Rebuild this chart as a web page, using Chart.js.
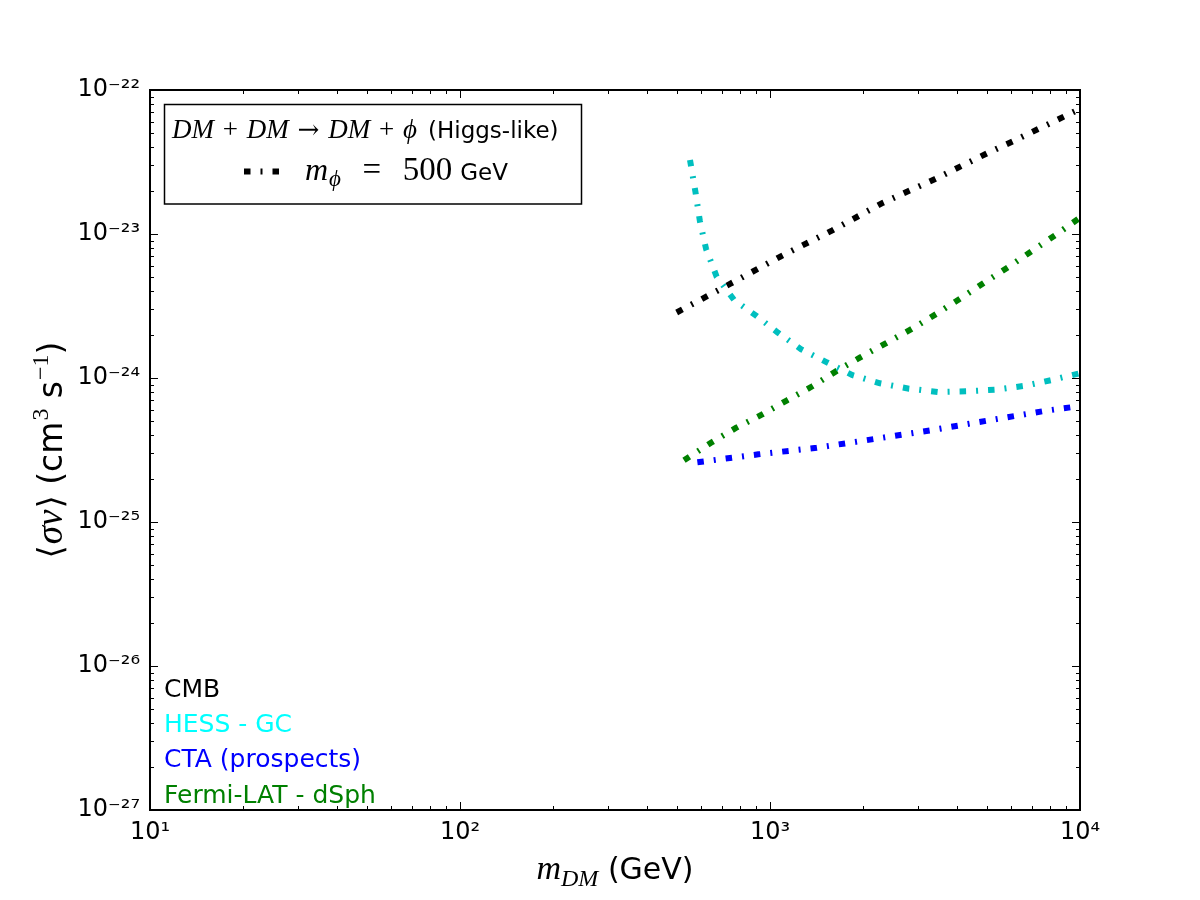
<!DOCTYPE html>
<html><head><meta charset="utf-8">
<script src="https://cdn.jsdelivr.net/npm/chart.js@4.4.1/dist/chart.umd.min.js"></script>
<style>html,body{margin:0;padding:0;background:#fff}#wrap{width:1200px;height:900px}</style>
</head><body><div id="wrap"><canvas id="c" width="1200" height="900"></canvas></div>
<script>
// ---- data ----
const cmbMass   = [500, 743, 1088, 1589, 2316, 3396, 5012, 6095, 10000];
const cmbSigma  = [2.85e-24, 4.50e-24, 7.03e-24, 1.06e-23, 1.65e-23, 2.40e-23, 3.63e-23, 4.42e-23, 7.4e-23];
const hessMass  = [552, 575, 594, 622, 673, 766, 904, 1059, 1262, 1520, 1839, 2265, 2808, 3483, 4330, 5352, 6660, 8103, 10000];
const hessSigma = [3.27e-23, 1.95e-23, 1.23e-23, 7.87e-24, 5.05e-24, 3.48e-24, 2.70e-24, 2.07e-24, 1.58e-24, 1.29e-24, 1.05e-24, 9.19e-25, 8.43e-25, 8.0e-25, 8.09e-25, 8.30e-25, 8.84e-25, 9.68e-25, 1.08e-24];
const ctaMass   = [583, 917, 1415, 2170, 3331, 5088, 7780, 10000];
const ctaSigma  = [2.60e-25, 2.95e-25, 3.28e-25, 3.77e-25, 4.35e-25, 5.08e-25, 5.93e-25, 6.39e-25];
const fermiMass  = [528, 645, 776, 940, 1135, 1369, 1641, 1955, 2362, 2865, 3432, 4121, 4939, 5902, 7068, 8433, 10000];
const fermiSigma = [2.68e-25, 3.55e-25, 4.50e-25, 5.56e-25, 7.0e-25, 8.76e-25, 1.12e-24, 1.39e-24, 1.74e-24, 2.19e-24, 2.78e-24, 3.58e-24, 4.64e-24, 5.93e-24, 7.74e-24, 1.00e-23, 1.30e-23];
const seriesNames = ['CMB', 'HESS - GC', 'CTA (prospects)', 'Fermi-LAT - dSph'];
const xTickValues = [1e1, 1e2, 1e3, 1e4];
const yTickValues = [1e-27, 1e-26, 1e-25, 1e-24, 1e-23, 1e-22];

// ---- styling ----
const DASH = [6.5, 10, 2, 10];
const SUP = {'-':'⁻','0':'⁰','1':'¹','2':'²','3':'³','4':'⁴','5':'⁵','6':'⁶','7':'⁷','8':'⁸','9':'⁹'};
function powLabel(v){
  const e = Math.round(Math.log10(v));
  return '10' + String(e).split('').map(c => SUP[c]).join('');
}
function ds(label, xs, ys, color){
  return {label, data: xs.map((x,i)=>({x, y: ys[i]})), showLine: true, borderColor: color,
    backgroundColor: color, borderWidth: 6, borderDash: DASH, borderCapStyle: 'butt',
    pointRadius: 0, fill: false, tension: 0};
}
function drawPieces(ctx, pieces, x, y){
  let cur = x;
  for (const p of pieces){
    ctx.font = p.f;
    const w = ctx.measureText(p.t).width;
    cur += (p.pl || 0);
    ctx.fillStyle = p.c || '#000';
    ctx.fillText(p.t, cur, y + (p.dy || 0));
    cur += w + (p.pr || 0);
  }
  return cur - x;
}
function piecesWidth(ctx, pieces){
  let w = 0;
  for (const p of pieces){ ctx.font = p.f; w += (p.pl||0) + ctx.measureText(p.t).width + (p.pr||0); }
  return w;
}
function tw(ctx, t, f){ ctx.font = f; return ctx.measureText(t).width; }
const MI = 'italic 27px "Liberation Serif"';
const MR = '27px "Liberation Serif"';

const decor = {
  id: 'decor',
  afterDatasetsDraw(chart){
    const {ctx, chartArea: a, scales: {x, y}} = chart;
    ctx.save();
    ctx.strokeStyle = '#000';
    ctx.lineWidth = 1;
    ctx.setLineDash([]);
    // inward ticks, all four sides
    for (let e = 1; e < 4; e++){
      for (let m = 1; m <= 9; m++){
        const px = Math.round(x.getPixelForValue(m * Math.pow(10, e))) + 0.5;
        const L = m === 1 ? 8 : 4;
        ctx.beginPath();
        ctx.moveTo(px, a.bottom); ctx.lineTo(px, a.bottom - L);
        ctx.moveTo(px, a.top); ctx.lineTo(px, a.top + L);
        ctx.stroke();
      }
    }
    for (let e = -27; e < -22; e++){
      for (let m = 1; m <= 9; m++){
        const py = Math.round(y.getPixelForValue(m * Math.pow(10, e))) + 0.5;
        const L = m === 1 ? 8 : 4;
        ctx.beginPath();
        ctx.moveTo(a.left, py); ctx.lineTo(a.left + L, py);
        ctx.moveTo(a.right, py); ctx.lineTo(a.right - L, py);
        ctx.stroke();
      }
    }
    // frame
    ctx.lineWidth = 2;
    ctx.strokeRect(a.left, a.top, a.right - a.left, a.bottom - a.top);

    // series labels bottom-left
    ctx.font = '25px "DejaVu Sans"';
    ctx.textBaseline = 'alphabetic';
    ctx.textAlign = 'left';
    const labColors = ['#000000', '#00FFFF', '#0000FF', '#008000'];
    const labY = [697, 732, 767, 803];
    seriesNames.forEach((n, i) => { ctx.fillStyle = labColors[i]; ctx.fillText(n, 164, labY[i]); });

    // legend box
    ctx.fillStyle = '#fff';
    ctx.fillRect(164, 104, 418, 100);
    ctx.lineWidth = 1.5;
    ctx.strokeStyle = '#000';
    ctx.strokeRect(164.5, 104.5, 417, 99.5);
    // line 1: math part fitted to 172..417, then (Higgs-like)
    const ARW = '26px "DejaVu Serif"';
    const nat = 3 * tw(ctx, 'DM', MI) + 2 * tw(ctx, '+', MR) + tw(ctx, '→', ARW) + tw(ctx, 'ϕ', MI);
    const g = Math.max(2, (245 - nat) / 6);
    const t1 = [
      {t:'DM', f:MI}, {t:'+', f:MR, pl:g, pr:g}, {t:'DM', f:MI}, {t:'→', f:ARW, pl:g, pr:g},
      {t:'DM', f:MI}, {t:'+', f:MR, pl:g, pr:g}, {t:'ϕ', f:MI}
    ];
    drawPieces(ctx, t1, 172, 138);
    ctx.font = '23px "DejaVu Sans"';
    ctx.fillStyle = '#000';
    ctx.fillText('(Higgs-like)', 428, 138);
    // legend sample line
    ctx.save();
    ctx.beginPath();
    ctx.setLineDash(DASH);
    ctx.lineCap = 'butt';
    ctx.lineWidth = 6;
    ctx.strokeStyle = '#000';
    ctx.moveTo(244, 171.5); ctx.lineTo(281, 171.5);
    ctx.stroke();
    ctx.restore();
    // line 2: m_phi = 500 GeV, spanning 305..508
    const fM = 'italic 32px "Liberation Serif"', fS = 'italic 23px "Liberation Serif"', fR = '33px "Liberation Serif"', fG = '23px "DejaVu Sans"';
    const gevX = 508 - tw(ctx, 'GeV', fG);
    const fiveX = gevX - 8 - tw(ctx, '500', fR);
    const mW = tw(ctx, 'm', fM), phW = tw(ctx, 'ϕ', fS);
    const leftEnd = 305 + mW + 1 + phW;
    const eqW = tw(ctx, '=', fR);
    ctx.fillStyle = '#000';
    ctx.font = fM; ctx.fillText('m', 305, 180);
    ctx.font = fS; ctx.fillText('ϕ', 305 + mW + 1, 186);
    ctx.font = fR; ctx.fillText('=', (leftEnd + fiveX) / 2 - eqW / 2, 180);
    ctx.fillText('500', fiveX, 180);
    ctx.font = fG; ctx.fillText('GeV', gevX, 180);

    // x axis title
    const xt = [
      {t:'m', f:'italic 34px "Liberation Serif"'}, {t:'DM', f:'italic 24px "Liberation Serif"', dy:7},
      {t:' (GeV)', f:'30px "DejaVu Sans"'}
    ];
    const xw = piecesWidth(ctx, xt);
    drawPieces(ctx, xt, (a.left + a.right) / 2 - xw / 2, 879);

    // y axis title (rotated)
    const yt = [
      {t:'⟨', f:'34px "DejaVu Serif"'}, {t:'σv', f:'italic 37px "Liberation Serif"', pl:1, pr:1}, {t:'⟩', f:'34px "DejaVu Serif"'},
      {t:' (cm', f:'33px "DejaVu Sans"'}, {t:'3', f:'24px "Liberation Serif"', dy:-14, pl:1},
      {t:' s', f:'33px "DejaVu Sans"'}, {t:'−1', f:'24px "Liberation Serif"', dy:-14, pl:1},
      {t:')', f:'33px "DejaVu Sans"'}
    ];
    const yw = piecesWidth(ctx, yt);
    ctx.translate(0, (a.top + a.bottom) / 2);
    ctx.rotate(-Math.PI / 2);
    drawPieces(ctx, yt, -yw / 2, 62);
    ctx.restore();
  }
};

const tickFont = {family: 'DejaVu Sans', size: 24};
new Chart(document.getElementById('c'), {
  type: 'scatter',
  data: { datasets: [
    ds(seriesNames[0], cmbMass, cmbSigma, '#000000'),
    ds(seriesNames[1], hessMass, hessSigma, '#00BFBF'),
    ds(seriesNames[2], ctaMass, ctaSigma, '#0000FF'),
    ds(seriesNames[3], fermiMass, fermiSigma, '#008000')
  ]},
  options: {
    responsive: false, animation: false, devicePixelRatio: 1,
    layout: {padding: {top: 90, right: 120, left: 0, bottom: 0}},
    plugins: {legend: {display: false}, tooltip: {enabled: false}},
    scales: {
      x: {type: 'logarithmic', position: 'bottom', min: 10, max: 1e4,
        afterFit: s => { s.height = 90; },
        afterBuildTicks: s => { s.ticks = xTickValues.map(v => ({value: v})); },
        grid: {display: false, drawTicks: false}, border: {display: false},
        ticks: {autoSkip: false, maxRotation: 0, padding: 8, color: '#000', font: tickFont, callback: v => powLabel(v)}},
      y: {type: 'logarithmic', position: 'left', min: 1e-27, max: 1e-22,
        afterFit: s => { s.width = 150; },
        afterBuildTicks: s => { s.ticks = yTickValues.map(v => ({value: v})); },
        grid: {display: false, drawTicks: false}, border: {display: false},
        ticks: {autoSkip: false, padding: 10, color: '#000', font: tickFont, callback: v => powLabel(v)}}
    }
  },
  plugins: [decor]
});
</script></body></html>
